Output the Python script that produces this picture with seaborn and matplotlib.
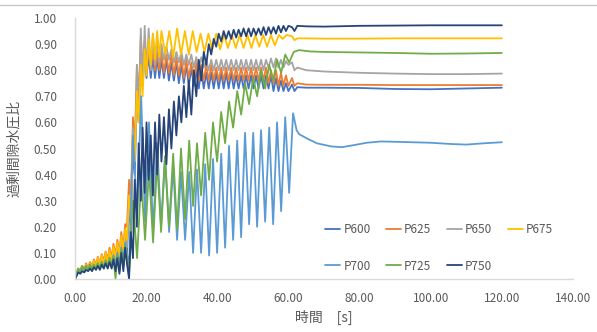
import pandas as pd
import matplotlib
matplotlib.use("Agg")
import matplotlib.pyplot as plt
import seaborn as sns
from matplotlib.lines import Line2D

sns.set_theme(style="white")
plt.rcParams['font.family'] = ['Noto Sans CJK JP', 'DejaVu Sans']

# time grids [s] (peaks / troughs of the wiggles)
T_EARLY = [0, 0.4, 0.9, 1.5, 2.0, 2.6, 3.1, 3.7, 4.2, 4.8, 5.3, 5.9, 6.4, 7.0,
           7.5, 8.1, 8.6, 9.2, 9.7, 10.3, 10.8, 11.4, 11.9, 12.5, 13.0, 13.6, 14.1]
T_RISE = [14.6, 15.2, 15.7, 16.3, 16.8, 17.4, 17.9, 18.5, 19.0, 19.6, 20.1, 20.7,
          21.3, 21.9, 22.5, 23.1, 23.7, 24.3]
T_MID = [25.0, 25.7, 26.4, 27.1, 27.8, 28.5, 29.2, 29.9, 30.6, 31.3,
         32.0, 32.7, 33.4, 34.1, 34.8, 35.5, 36.2, 36.9, 37.6, 38.3,
         39.0, 39.7, 40.4, 41.1, 41.8, 42.5, 43.2, 43.9, 44.6, 45.3,
         46.0, 46.7, 47.4, 48.1, 48.8, 49.5, 50.2, 50.9, 51.6, 52.3,
         53.0, 53.7, 54.4, 55.1, 55.8, 56.5, 57.2, 57.9, 58.6, 59.3, 60.0]
T_SLOW = [15.2, 16.3, 17.45, 18.6, 19.7, 20.8, 21.95, 23.1, 24.2, 25.3,
          26.45, 27.6, 28.7, 29.8, 30.95, 32.1, 33.2, 34.3, 35.45, 36.6,
          37.7, 38.8, 39.95, 41.1, 42.2, 43.3, 44.45, 45.6, 46.7, 47.8,
          48.95, 50.1, 51.2, 52.3, 53.45, 54.6, 55.7, 56.8, 57.95, 59.1, 60.2]
T_YEL = [25.4, 26.5, 27.6, 28.7, 29.8, 30.9, 32.0, 33.1, 34.2, 35.3,
         36.4, 37.5, 38.6, 39.7, 40.8, 41.9, 43.0, 44.1, 45.2, 46.3,
         47.4, 48.5, 49.6, 50.7, 51.8, 52.9, 54.0, 55.1, 56.2, 57.3, 58.4, 59.5]
T_TAIL = [61.0, 61.7, 62.5, 65, 70, 80, 90, 100, 110, 120]
T_TAIL_700 = [61.3, 62.3, 63.0, 65, 68, 72, 75, 78, 82, 86, 92, 100, 106, 110, 115, 120]
T_TAIL_725 = [61.5, 63, 66, 70, 80, 90, 100, 110, 120]

# P600
p600_early = [0, 0.015, 0.035, 0.025, 0.045, 0.03, 0.05, 0.035, 0.055, 0.04, 0.06, 0.045, 0.065,
              0.05, 0.07, 0.05, 0.08, 0.055, 0.09, 0.06, 0.10, 0.065, 0.115, 0.07, 0.13, 0.08, 0.15]
p600_rise = [0.1, 0.28, 0.2, 0.5, 0.4, 0.72, 0.6, 0.86, 0.74, 0.87, 0.77, 0.86, 0.77, 0.85,
             0.77, 0.85, 0.77, 0.84]
p600_mid = [0.77, 0.84, 0.76, 0.83, 0.76, 0.83, 0.75, 0.82, 0.75, 0.82,
            0.74, 0.81, 0.74, 0.80, 0.73, 0.80, 0.73, 0.79, 0.73, 0.79,
            0.73, 0.79, 0.73, 0.79, 0.73, 0.79, 0.73, 0.79, 0.73, 0.78,
            0.73, 0.78, 0.73, 0.78, 0.73, 0.78, 0.73, 0.78, 0.73, 0.78,
            0.73, 0.78, 0.73, 0.78, 0.72, 0.77, 0.72, 0.76, 0.72, 0.75, 0.72]
p600_tail = [0.745, 0.72, 0.735, 0.733, 0.733, 0.732, 0.728, 0.727, 0.73, 0.733]

# P625
p625_early = [0, 0.02, 0.04, 0.03, 0.05, 0.035, 0.06, 0.045, 0.065, 0.05, 0.075, 0.055, 0.085,
              0.06, 0.095, 0.07, 0.105, 0.075, 0.12, 0.08, 0.135, 0.09, 0.15, 0.1, 0.18, 0.12, 0.21]
p625_rise = [0.2, 0.38, 0.3, 0.62, 0.5, 0.82, 0.68, 0.93, 0.8, 0.91, 0.81, 0.89, 0.8, 0.88,
             0.8, 0.87, 0.8, 0.87]
p625_mid = [0.79, 0.86, 0.79, 0.86, 0.78, 0.85, 0.78, 0.85, 0.77, 0.84,
            0.77, 0.83, 0.76, 0.83, 0.76, 0.82, 0.76, 0.82, 0.76, 0.82,
            0.76, 0.81, 0.76, 0.81, 0.76, 0.81, 0.76, 0.81, 0.76, 0.81,
            0.76, 0.81, 0.76, 0.81, 0.76, 0.81, 0.76, 0.81, 0.76, 0.81,
            0.76, 0.81, 0.75, 0.80, 0.75, 0.80, 0.74, 0.79, 0.74, 0.78, 0.74]
p625_tail = [0.77, 0.74, 0.75, 0.745, 0.744, 0.744, 0.743, 0.743, 0.743, 0.743]

# P650
p650_early = [0, 0.02, 0.035, 0.03, 0.045, 0.035, 0.05, 0.04, 0.055, 0.045, 0.06, 0.05, 0.07,
              0.055, 0.08, 0.06, 0.09, 0.065, 0.10, 0.07, 0.11, 0.075, 0.125, 0.085, 0.15, 0.1, 0.17]
p650_rise = [0.12, 0.3, 0.22, 0.58, 0.45, 0.82, 0.62, 0.96, 0.74, 0.97, 0.78, 0.96, 0.8, 0.94,
             0.82, 0.92, 0.83, 0.90]
p650_mid = [0.84, 0.89, 0.84, 0.88, 0.83, 0.87, 0.83, 0.87, 0.82, 0.86,
            0.82, 0.86, 0.81, 0.85, 0.81, 0.85, 0.81, 0.84, 0.80, 0.84,
            0.80, 0.84, 0.80, 0.84, 0.80, 0.84, 0.80, 0.84, 0.80, 0.84,
            0.80, 0.84, 0.80, 0.84, 0.80, 0.84, 0.80, 0.84, 0.80, 0.84,
            0.80, 0.84, 0.81, 0.845, 0.81, 0.845, 0.81, 0.84, 0.81, 0.835, 0.82]
p650_tail = [0.83, 0.80, 0.81, 0.80, 0.795, 0.79, 0.787, 0.785, 0.785, 0.787]

# P675
p675_early = [0, 0.02, 0.04, 0.03, 0.05, 0.035, 0.055, 0.04, 0.06, 0.045, 0.07, 0.05, 0.08,
              0.055, 0.09, 0.06, 0.10, 0.065, 0.11, 0.07, 0.125, 0.08, 0.14, 0.09, 0.165, 0.11, 0.19]
p675_rise = [0.15, 0.32, 0.26, 0.55, 0.45, 0.72, 0.6, 0.82, 0.7, 0.88, 0.78, 0.92, 0.82, 0.94,
             0.84, 0.95, 0.85, 0.95]
p675_mid = [0.86, 0.95, 0.85, 0.96, 0.86, 0.95, 0.86, 0.95, 0.87, 0.94,
            0.87, 0.94, 0.88, 0.94, 0.88, 0.935, 0.885, 0.935, 0.885, 0.935,
            0.885, 0.935, 0.885, 0.935, 0.89, 0.935, 0.89, 0.935, 0.895, 0.935, 0.92, 0.935]
p675_tail = [0.93, 0.915, 0.922, 0.922, 0.921, 0.921, 0.922, 0.922, 0.922, 0.922]

# P700
p700_early = [0, 0.015, 0.035, 0.025, 0.045, 0.03, 0.05, 0.035, 0.05, 0.035, 0.055, 0.04, 0.06,
              0.04, 0.065, 0.045, 0.07, 0.045, 0.08, 0.05, 0.09, 0.05, 0.1, 0.03, 0.12, 0.05, 0.14]
p700_mid = [0.05, 0.55, 0.25, 0.70, 0.22, 0.60, 0.18, 0.52, 0.20, 0.47,
            0.18, 0.43, 0.15, 0.41, 0.15, 0.41, 0.10, 0.42, 0.10, 0.44,
            0.09, 0.46, 0.10, 0.48, 0.12, 0.51, 0.15, 0.53, 0.16, 0.56,
            0.21, 0.56, 0.20, 0.57, 0.22, 0.58, 0.21, 0.60, 0.26, 0.62, 0.33]
p700_tail = [0.635, 0.57, 0.555, 0.54, 0.52, 0.508, 0.505, 0.512, 0.522, 0.527,
             0.525, 0.522, 0.517, 0.515, 0.52, 0.524]

# P725
p725_early = [0, 0.02, 0.04, 0.03, 0.05, 0.035, 0.05, 0.035, 0.055, 0.04, 0.055, 0.04, 0.06,
              0.04, 0.065, 0.04, 0.07, 0.045, 0.08, 0.05, 0.085, 0.0, 0.09, 0.03, 0.11, 0.05, 0.13]
p725_mid = [0.02, 0.30, 0.08, 0.38, 0.15, 0.42, 0.14, 0.45, 0.18, 0.47,
            0.20, 0.48, 0.19, 0.50, 0.23, 0.53, 0.28, 0.52, 0.32, 0.56,
            0.38, 0.60, 0.45, 0.64, 0.52, 0.68, 0.58, 0.72, 0.63, 0.75,
            0.67, 0.77, 0.70, 0.80, 0.73, 0.82, 0.76, 0.84, 0.79, 0.86, 0.83]
p725_tail = [0.87, 0.877, 0.872, 0.87, 0.868, 0.866, 0.863, 0.864, 0.866]

# P750
p750_early = [0, 0.01, 0.025, 0.02, 0.03, 0.025, 0.035, 0.03, 0.04, 0.03, 0.045, 0.035, 0.05,
              0.035, 0.055, 0.04, 0.06, 0.04, 0.065, 0.04, 0.075, 0.03, 0.08, 0.02, 0.1, 0.03, 0.12]
p750_rise = [0.06, 0.0, 0.18, 0.08, 0.38, 0.2, 0.52, 0.3, 0.58, 0.33, 0.6, 0.38, 0.55, 0.32,
             0.6, 0.4, 0.63, 0.45]
p750_mid = [0.62, 0.44, 0.65, 0.50, 0.68, 0.55, 0.70, 0.60, 0.74, 0.62,
            0.76, 0.63, 0.80, 0.70, 0.84, 0.76, 0.87, 0.82, 0.90, 0.86,
            0.92, 0.89, 0.94, 0.91, 0.95, 0.92, 0.95, 0.92, 0.955, 0.925,
            0.955, 0.93, 0.96, 0.93, 0.96, 0.93, 0.96, 0.935, 0.96, 0.935,
            0.965, 0.935, 0.965, 0.94, 0.965, 0.94, 0.97, 0.945, 0.97, 0.95, 0.97]
p750_tail = [0.965, 0.95, 0.97, 0.968, 0.967, 0.97, 0.971, 0.972, 0.972, 0.972]

series = {
    "P600": (T_EARLY + T_RISE + T_MID + T_TAIL, p600_early + p600_rise + p600_mid + p600_tail),
    "P625": (T_EARLY + T_RISE + T_MID + T_TAIL, p625_early + p625_rise + p625_mid + p625_tail),
    "P650": (T_EARLY + T_RISE + T_MID + T_TAIL, p650_early + p650_rise + p650_mid + p650_tail),
    "P675": (T_EARLY + T_RISE + T_YEL + T_TAIL, p675_early + p675_rise + p675_mid + p675_tail),
    "P700": (T_EARLY + T_SLOW + T_TAIL_700, p700_early + p700_mid + p700_tail),
    "P725": (T_EARLY + T_SLOW + T_TAIL_725, p725_early + p725_mid + p725_tail),
    "P750": (T_EARLY + T_RISE + T_MID + T_TAIL, p750_early + p750_rise + p750_mid + p750_tail),
}
colors = {"P600": "#4472C4", "P625": "#ED7D31", "P650": "#A5A5A5", "P675": "#FFC000",
          "P700": "#5B9BD5", "P725": "#70AD47", "P750": "#264478"}
names = list(series.keys())

frames = []
for name, (t, v) in series.items():
    assert len(t) == len(v), (name, len(t), len(v))
    frames.append(pd.DataFrame({"time": t, "ratio": v, "series": name}))
df = pd.concat(frames, ignore_index=True)

text_col = "#595959"
fig = plt.figure(figsize=(5.97, 3.32), dpi=100)
ax = fig.add_axes([75 / 597, 1 - 279 / 332, 498 / 597, 261 / 332])

sns.lineplot(data=df, x="time", y="ratio", hue="series", hue_order=names,
             palette=colors, estimator=None, sort=False, lw=1.3, legend=False, ax=ax)

ax.set_xlim(0, 140)
ax.set_ylim(0, 1)
ax.set_xticks(range(0, 141, 20))
ax.set_xticklabels([f"{x:.2f}" for x in range(0, 141, 20)])
yt = [i / 10 for i in range(11)]
ax.set_yticks(yt)
ax.set_yticklabels([f"{y:.2f}" for y in yt])
ax.tick_params(axis="y", length=0, pad=13, labelsize=8.5, labelcolor=text_col)
ax.tick_params(axis="x", length=0, pad=9, labelsize=8.5, labelcolor=text_col)
for s in ["top", "right"]:
    ax.spines[s].set_visible(False)
for s in ["left", "bottom"]:
    ax.spines[s].set_color("#D9D9D9")
    ax.spines[s].set_linewidth(1.0)
ax.grid(False)
ax.set_xlabel("時間　[s]", fontsize=10, color=text_col, labelpad=4)
ax.set_ylabel("過剰間隙水圧比", fontsize=10, color=text_col, labelpad=9)

# legend fills column-wise, so reorder to get two rows P600..P675 / P700..P750
leg_order = ["P600", "P700", "P625", "P725", "P650", "P750", "P675"]
handles = [Line2D([0], [0], color=colors[n], lw=1.3) for n in leg_order]
ax.legend(handles, leg_order, ncol=4, loc="upper left", frameon=False,
          bbox_to_anchor=(325 / 597, 1 - 223 / 332), bbox_transform=fig.transFigure,
          fontsize=8.5, handlelength=1.3, handletextpad=0.25, columnspacing=1.3,
          labelspacing=2.0, borderpad=0, borderaxespad=0, labelcolor=text_col)

fig.add_artist(Line2D([0, 1], [1 - 5 / 332, 1 - 5 / 332], color="#C8C8C8", lw=1.0,
                      transform=fig.transFigure))

fig.savefig("out.png", dpi=100)
